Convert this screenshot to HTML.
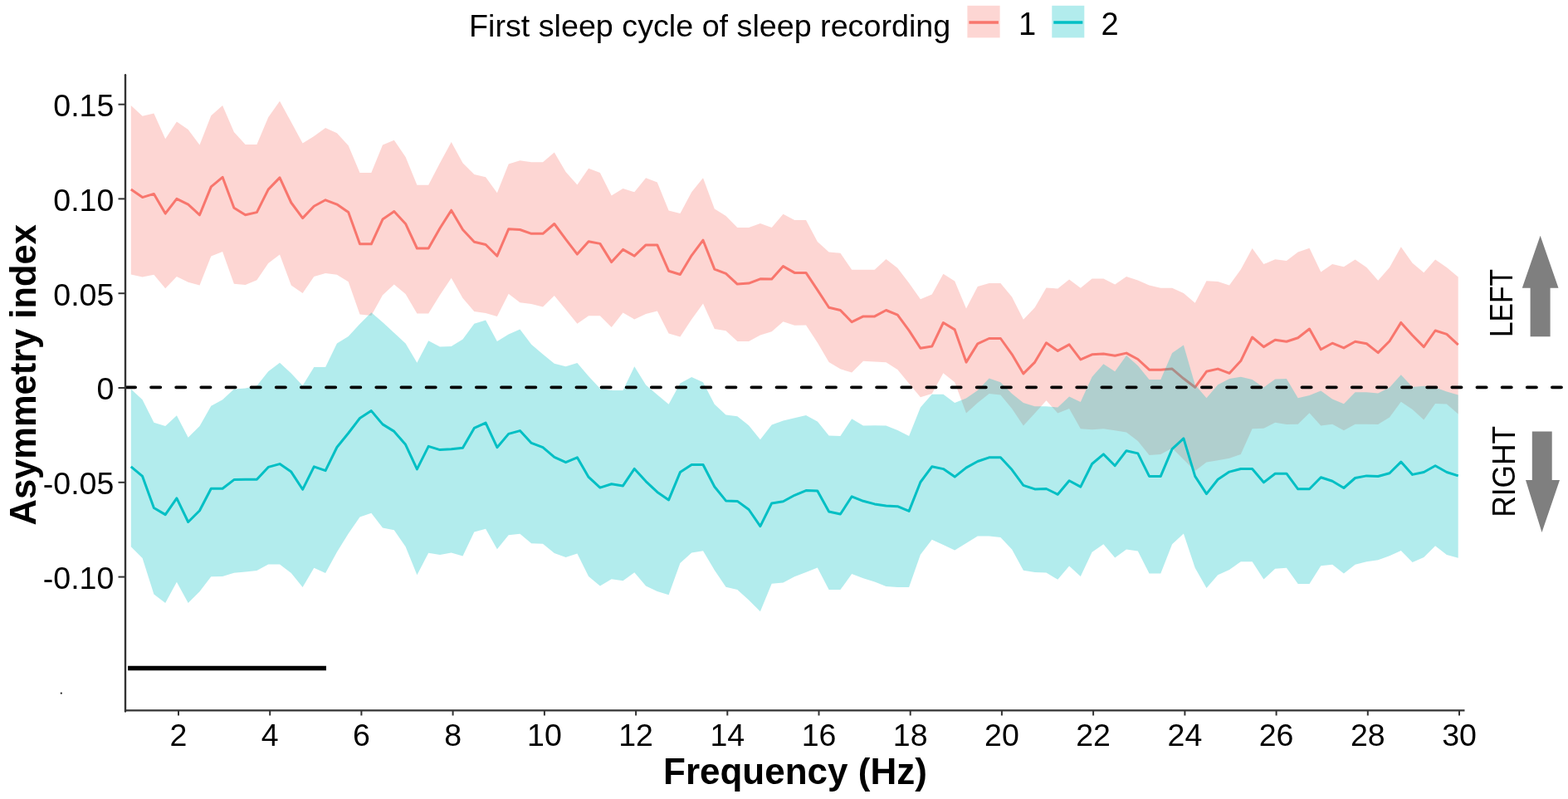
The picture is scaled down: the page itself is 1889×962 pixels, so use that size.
<!DOCTYPE html>
<html><head><meta charset="utf-8"><title>Asymmetry index by frequency</title>
<style>
html,body{margin:0;padding:0;background:#fff;}
body{width:1889px;height:962px;overflow:hidden;}
svg{display:block;}
.tk{font-family:"Liberation Sans",sans-serif;font-size:37.5px;fill:#000;}
.ttl{font-family:"Liberation Sans",sans-serif;font-size:44px;font-weight:bold;fill:#000;}
.lg{font-family:"Liberation Sans",sans-serif;font-size:38px;fill:#000;}
.lr{font-family:"Liberation Sans",sans-serif;font-size:39px;fill:#000;}
</style></head>
<body>
<svg width="1889" height="962" viewBox="0 0 1889 962">
<rect width="1889" height="962" fill="#fff"/>
<polygon points="157.8,127.1 171.6,139.8 185.4,136.4 199.2,167.3 212.9,146.6 226.7,156.1 240.5,174.5 254.3,139.2 268.1,127.1 281.9,158.9 295.6,174.1 309.4,174.1 323.2,141.3 337.0,121.8 350.8,147.0 364.6,172.4 378.3,163.9 392.1,154.0 405.9,160.3 419.7,175.2 433.5,208.0 447.3,208.0 461.0,174.5 474.8,168.8 488.6,188.9 502.4,222.8 516.2,222.8 530.0,196.3 543.7,170.9 557.5,196.3 571.3,210.1 585.1,213.3 598.9,232.3 612.7,197.4 626.4,193.2 640.2,195.3 654.0,195.3 667.8,183.6 681.6,206.9 695.4,222.4 709.1,202.7 722.9,208.0 736.7,235.5 750.5,227.1 764.3,231.3 778.1,214.3 791.8,219.6 805.6,253.5 819.4,257.1 833.2,231.3 847.0,214.3 860.8,251.4 874.5,259.9 888.3,274.1 902.1,274.1 915.9,269.0 929.7,274.0 943.5,257.7 957.2,264.9 971.0,264.9 984.8,290.9 998.6,303.6 1012.4,304.7 1026.2,324.8 1040.0,324.8 1053.7,324.8 1067.5,312.1 1081.3,322.7 1095.1,340.7 1108.9,360.2 1122.7,354.5 1136.4,329.7 1150.2,338.6 1164.0,371.4 1177.8,344.9 1191.6,341.1 1205.4,341.1 1219.1,357.6 1232.9,384.7 1246.7,370.3 1260.5,346.6 1274.3,347.5 1288.1,336.5 1301.8,346.7 1315.6,335.5 1329.4,335.5 1343.2,342.5 1357.0,332.9 1370.8,337.6 1384.5,343.5 1398.3,346.7 1412.1,346.7 1425.9,353.1 1439.7,364.7 1453.5,338.2 1467.2,338.9 1481.0,343.5 1494.8,324.5 1508.6,299.1 1522.4,318.1 1536.2,312.2 1549.9,313.9 1563.7,303.5 1577.5,298.8 1591.3,327.6 1605.1,318.1 1618.9,321.3 1632.6,312.4 1646.4,321.9 1660.2,337.8 1674.0,321.9 1687.8,297.2 1701.6,316.8 1715.3,328.3 1729.1,312.4 1742.9,321.9 1756.7,333.4 1756.7,498.6 1742.9,486.5 1729.1,485.9 1715.3,505.6 1701.6,492.9 1687.8,483.7 1674.0,502.4 1660.2,510.9 1646.4,510.7 1632.6,510.7 1618.9,518.3 1605.1,510.7 1591.3,512.6 1577.5,497.3 1563.7,510.7 1549.9,510.9 1536.2,508.8 1522.4,515.8 1508.6,516.2 1494.8,546.9 1481.0,551.8 1467.2,554.3 1453.5,556.5 1439.7,567.1 1425.9,553.3 1412.1,539.5 1398.3,546.9 1384.5,548.0 1370.8,531.1 1357.0,520.5 1343.2,518.3 1329.4,516.2 1315.6,517.3 1301.8,516.2 1288.1,491.9 1274.3,497.4 1260.5,482.3 1246.7,497.4 1232.9,512.6 1219.1,491.9 1205.4,475.4 1191.6,474.0 1177.8,485.1 1164.0,497.4 1150.2,460.3 1136.4,449.3 1122.7,474.0 1108.9,478.2 1095.1,461.7 1081.3,445.1 1067.5,436.2 1053.7,435.5 1040.0,434.8 1026.2,448.6 1012.4,444.3 998.6,435.9 984.8,412.6 971.0,391.4 957.2,391.8 943.5,387.2 929.7,399.2 915.9,403.5 902.1,410.9 888.3,410.9 874.5,398.2 860.8,396.1 847.0,365.4 833.2,384.5 819.4,405.6 805.6,401.4 791.8,374.5 778.1,378.1 764.3,384.5 750.5,376.6 736.7,394.0 722.9,380.2 709.1,380.2 695.4,389.8 681.6,372.8 667.8,355.9 654.0,369.6 640.2,366.0 626.4,364.3 612.7,353.8 598.9,380.9 585.1,377.1 571.3,374.9 557.5,359.1 543.7,334.7 530.0,355.2 516.2,377.4 502.4,377.4 488.6,354.1 474.8,342.5 461.0,355.2 447.3,379.9 433.5,378.5 419.7,339.3 405.9,330.8 392.1,329.1 378.3,332.9 364.6,353.1 350.8,343.5 337.0,306.5 323.2,317.1 309.4,337.2 295.6,343.1 281.9,341.8 268.1,302.9 254.3,308.6 240.5,343.5 226.7,339.7 212.9,332.9 199.2,347.3 185.4,330.8 171.6,333.4 157.8,330.4" fill="#F8766D" fill-opacity="0.3"/>
<polyline points="157.8,228.1 171.6,237.6 185.4,233.4 199.2,257.1 212.9,239.3 226.7,246.1 240.5,258.8 254.3,224.9 268.1,213.3 281.9,250.3 295.6,258.8 309.4,255.6 323.2,228.1 337.0,213.9 350.8,244.0 364.6,262.6 378.3,248.2 392.1,240.8 405.9,246.1 419.7,255.6 433.5,293.8 447.3,293.8 461.0,264.1 474.8,254.6 488.6,269.4 502.4,299.0 516.2,299.0 530.0,274.7 543.7,253.2 557.5,276.5 571.3,291.3 585.1,294.5 598.9,308.2 612.7,275.8 626.4,276.5 640.2,281.3 654.0,281.3 667.8,269.5 681.6,288.1 695.4,306.1 709.1,290.7 722.9,293.4 736.7,315.6 750.5,300.4 764.3,308.2 778.1,294.9 791.8,294.9 805.6,326.2 819.4,330.5 833.2,307.6 847.0,289.2 860.8,324.1 874.5,329.4 888.3,342.1 902.1,341.1 915.9,335.8 929.7,336.0 943.5,320.6 957.2,328.4 971.0,328.4 984.8,349.2 998.6,370.3 1012.4,373.5 1026.2,387.7 1040.0,380.9 1053.7,380.9 1067.5,373.5 1081.3,379.2 1095.1,397.9 1108.9,419.2 1122.7,417.1 1136.4,388.5 1150.2,396.9 1164.0,436.1 1177.8,413.9 1191.6,407.5 1205.4,407.5 1219.1,426.6 1232.9,449.9 1246.7,436.1 1260.5,412.8 1274.3,422.4 1288.1,414.9 1301.8,432.9 1315.6,426.8 1329.4,426.1 1343.2,428.2 1357.0,425.1 1370.8,432.5 1384.5,445.2 1398.3,445.2 1412.1,444.1 1425.9,455.8 1439.7,466.3 1453.5,447.3 1467.2,444.1 1481.0,449.4 1494.8,434.6 1508.6,406.0 1522.4,417.6 1536.2,409.2 1549.9,411.3 1563.7,406.8 1577.5,396.0 1591.3,420.8 1605.1,413.2 1618.9,418.9 1632.6,411.3 1646.4,413.8 1660.2,424.6 1674.0,410.7 1687.8,388.4 1701.6,403.7 1715.3,417.6 1729.1,398.0 1742.9,402.4 1756.7,415.1" fill="none" stroke="#F8766D" stroke-width="3" stroke-linejoin="round"/>
<polygon points="157.8,468.6 171.6,481.3 185.4,508.8 199.2,513.1 212.9,500.3 226.7,526.8 240.5,513.1 254.3,488.7 268.1,481.3 281.9,468.6 295.6,467.5 309.4,464.4 323.2,447.3 337.0,436.7 350.8,449.4 364.6,464.2 378.3,442.0 392.1,442.0 405.9,413.4 419.7,404.9 433.5,390.1 447.3,376.3 461.0,388.0 474.8,400.7 488.6,413.4 502.4,436.7 516.2,410.2 530.0,417.6 543.7,416.9 557.5,408.5 571.3,389.8 585.1,385.5 598.9,410.9 612.7,402.5 626.4,396.5 640.2,414.8 654.0,426.5 667.8,437.7 681.6,441.3 695.4,437.1 709.1,452.9 722.9,467.8 736.7,469.9 750.5,469.9 764.3,441.3 778.1,463.5 791.8,475.2 805.6,486.8 819.4,461.4 833.2,454.0 847.0,460.3 860.8,486.8 874.5,499.5 888.3,501.2 902.1,512.2 915.9,529.2 929.7,511.6 943.5,506.4 957.2,503.2 971.0,500.0 984.8,507.4 998.6,524.4 1012.4,525.0 1026.2,504.2 1040.0,512.6 1053.7,512.3 1067.5,512.6 1081.3,518.1 1095.1,525.0 1108.9,490.6 1122.7,474.7 1136.4,474.7 1150.2,485.1 1164.0,479.6 1177.8,469.9 1191.6,455.5 1205.4,460.3 1219.1,474.0 1232.9,485.1 1246.7,489.2 1260.5,489.2 1274.3,490.6 1288.1,477.5 1301.8,484.0 1315.6,453.8 1329.4,438.2 1343.2,447.2 1357.0,427.9 1370.8,440.3 1384.5,456.9 1398.3,456.9 1412.1,425.1 1425.9,415.5 1439.7,463.3 1453.5,479.2 1467.2,463.3 1481.0,455.9 1494.8,453.8 1508.6,456.9 1522.4,466.5 1536.2,456.5 1549.9,455.9 1563.7,479.3 1577.5,476.1 1591.3,470.4 1605.1,480.5 1618.9,486.2 1632.6,472.3 1646.4,472.3 1660.2,473.5 1674.0,466.6 1687.8,451.3 1701.6,465.9 1715.3,464.7 1729.1,466.6 1742.9,471.6 1756.7,475.5 1756.7,671.8 1742.9,668.0 1729.1,657.2 1715.3,671.1 1701.6,676.9 1687.8,662.9 1674.0,669.2 1660.2,674.3 1646.4,676.2 1632.6,679.8 1618.9,690.5 1605.1,679.8 1591.3,681.3 1577.5,702.9 1563.7,702.9 1549.9,683.8 1536.2,684.8 1522.4,697.5 1508.6,676.3 1494.8,676.3 1481.0,685.9 1467.2,692.2 1453.5,708.1 1439.7,683.8 1425.9,642.5 1412.1,655.2 1398.3,690.5 1384.5,690.5 1370.8,663.6 1357.0,661.5 1343.2,671.5 1329.4,655.2 1315.6,664.7 1301.8,694.0 1288.1,681.5 1274.3,697.8 1260.5,689.4 1246.7,688.9 1232.9,686.8 1219.1,661.4 1205.4,647.0 1191.6,645.5 1177.8,645.5 1164.0,654.0 1150.2,662.5 1136.4,656.1 1122.7,649.8 1108.9,667.8 1095.1,706.9 1081.3,706.9 1067.5,705.9 1053.7,700.6 1040.0,696.3 1026.2,691.1 1012.4,710.1 998.6,710.1 984.8,683.6 971.0,688.9 957.2,694.2 943.5,701.6 929.7,702.7 915.9,736.3 902.1,722.6 888.3,709.9 874.5,706.7 860.8,686.6 847.0,663.3 833.2,665.4 819.4,678.1 805.6,716.2 791.8,712.0 778.1,705.6 764.3,689.3 750.5,699.3 736.7,697.2 722.9,705.6 709.1,694.0 695.4,666.5 681.6,671.1 667.8,666.0 654.0,654.8 640.2,654.2 626.4,642.7 612.7,644.2 598.9,661.2 585.1,636.8 571.3,640.6 557.5,669.6 543.7,665.4 530.0,667.9 516.2,665.8 502.4,692.2 488.6,658.3 474.8,638.2 461.0,635.5 447.3,617.7 433.5,622.4 419.7,642.5 405.9,664.7 392.1,690.1 378.3,683.8 364.6,707.1 350.8,690.1 337.0,679.5 323.2,679.5 309.4,686.9 295.6,688.4 281.9,689.7 268.1,693.9 254.3,694.3 240.5,712.3 226.7,726.1 212.9,700.7 199.2,726.1 185.4,715.5 171.6,672.1 157.8,658.3" fill="#00BFC4" fill-opacity="0.3"/>
<polyline points="157.8,561.8 171.6,573.4 185.4,611.5 199.2,619.6 212.9,599.9 226.7,628.5 240.5,614.7 254.3,588.2 268.1,588.2 281.9,577.6 295.6,577.2 309.4,577.2 323.2,562.4 337.0,558.6 350.8,568.1 364.6,589.3 378.3,561.8 392.1,566.6 405.9,538.5 419.7,521.5 433.5,503.5 447.3,494.6 461.0,510.9 474.8,519.4 488.6,535.3 502.4,564.9 516.2,537.4 530.0,541.6 543.7,540.8 557.5,539.3 571.3,515.4 585.1,509.1 598.9,538.7 612.7,522.4 626.4,518.6 640.2,533.4 654.0,538.7 667.8,550.3 681.6,556.7 695.4,550.8 709.1,574.4 722.9,587.1 736.7,582.8 750.5,584.9 764.3,564.4 778.1,579.6 791.8,592.4 805.6,601.9 819.4,568.6 833.2,559.5 847.0,559.5 860.8,586.0 874.5,602.9 888.3,603.4 902.1,613.5 915.9,633.6 929.7,605.9 943.5,603.8 957.2,596.3 971.0,590.6 984.8,591.1 998.6,616.0 1012.4,619.0 1026.2,597.8 1040.0,603.3 1053.7,606.9 1067.5,609.1 1081.3,609.7 1095.1,615.4 1108.9,580.5 1122.7,561.8 1136.4,564.6 1150.2,574.1 1164.0,563.1 1177.8,555.5 1191.6,550.8 1205.4,550.8 1219.1,565.6 1232.9,584.3 1246.7,588.9 1260.5,588.5 1274.3,595.3 1288.1,578.8 1301.8,586.1 1315.6,558.5 1329.4,546.9 1343.2,560.7 1357.0,542.7 1370.8,545.9 1384.5,573.4 1398.3,573.4 1412.1,540.6 1425.9,527.9 1439.7,573.4 1453.5,594.6 1467.2,577.2 1481.0,568.1 1494.8,564.5 1508.6,564.5 1522.4,580.8 1536.2,570.2 1549.9,570.2 1563.7,588.8 1577.5,588.8 1591.3,574.8 1605.1,579.3 1618.9,587.5 1632.6,575.5 1646.4,572.9 1660.2,573.5 1674.0,569.7 1687.8,556.1 1701.6,571.4 1715.3,568.5 1729.1,560.8 1742.9,568.5 1756.7,572.9" fill="none" stroke="#00BFC4" stroke-width="3" stroke-linejoin="round"/>
<line x1="151.9" y1="466.3" x2="1881" y2="466.3" stroke="#000" stroke-width="3.8" stroke-linecap="round" stroke-dasharray="11.2 18.94"/>
<line x1="151" y1="90.2" x2="151" y2="856.5" stroke="#333" stroke-width="2.4" stroke-linecap="round"/>
<line x1="150" y1="855.4" x2="1764.5" y2="855.4" stroke="#333" stroke-width="2.2"/>
<line x1="142.5" y1="125.7" x2="151" y2="125.7" stroke="#333" stroke-width="2"/>
<line x1="142.5" y1="239.4" x2="151" y2="239.4" stroke="#333" stroke-width="2"/>
<line x1="142.5" y1="353.2" x2="151" y2="353.2" stroke="#333" stroke-width="2"/>
<line x1="142.5" y1="467.0" x2="151" y2="467.0" stroke="#333" stroke-width="2"/>
<line x1="142.5" y1="580.8" x2="151" y2="580.8" stroke="#333" stroke-width="2"/>
<line x1="142.5" y1="694.6" x2="151" y2="694.6" stroke="#333" stroke-width="2"/>
<line x1="215.0" y1="855.4" x2="215.0" y2="861.5" stroke="#333" stroke-width="2"/>
<line x1="325.2" y1="855.4" x2="325.2" y2="861.5" stroke="#333" stroke-width="2"/>
<line x1="435.4" y1="855.4" x2="435.4" y2="861.5" stroke="#333" stroke-width="2"/>
<line x1="545.6" y1="855.4" x2="545.6" y2="861.5" stroke="#333" stroke-width="2"/>
<line x1="655.9" y1="855.4" x2="655.9" y2="861.5" stroke="#333" stroke-width="2"/>
<line x1="766.1" y1="855.4" x2="766.1" y2="861.5" stroke="#333" stroke-width="2"/>
<line x1="876.3" y1="855.4" x2="876.3" y2="861.5" stroke="#333" stroke-width="2"/>
<line x1="986.5" y1="855.4" x2="986.5" y2="861.5" stroke="#333" stroke-width="2"/>
<line x1="1096.7" y1="855.4" x2="1096.7" y2="861.5" stroke="#333" stroke-width="2"/>
<line x1="1206.9" y1="855.4" x2="1206.9" y2="861.5" stroke="#333" stroke-width="2"/>
<line x1="1317.1" y1="855.4" x2="1317.1" y2="861.5" stroke="#333" stroke-width="2"/>
<line x1="1427.4" y1="855.4" x2="1427.4" y2="861.5" stroke="#333" stroke-width="2"/>
<line x1="1537.6" y1="855.4" x2="1537.6" y2="861.5" stroke="#333" stroke-width="2"/>
<line x1="1647.8" y1="855.4" x2="1647.8" y2="861.5" stroke="#333" stroke-width="2"/>
<line x1="1758.0" y1="855.4" x2="1758.0" y2="861.5" stroke="#333" stroke-width="2"/>
<text x="137.3" y="140.0" text-anchor="end" class="tk">0.15</text>
<text x="137.3" y="253.7" text-anchor="end" class="tk">0.10</text>
<text x="137.3" y="367.5" text-anchor="end" class="tk">0.05</text>
<text x="137.3" y="481.3" text-anchor="end" class="tk">0</text>
<text x="137.3" y="595.1" text-anchor="end" class="tk">-0.05</text>
<text x="137.3" y="708.9" text-anchor="end" class="tk">-0.10</text>
<text x="215.0" y="897.7" text-anchor="middle" class="tk">2</text>
<text x="325.2" y="897.7" text-anchor="middle" class="tk">4</text>
<text x="435.4" y="897.7" text-anchor="middle" class="tk">6</text>
<text x="545.6" y="897.7" text-anchor="middle" class="tk">8</text>
<text x="655.9" y="897.7" text-anchor="middle" class="tk">10</text>
<text x="766.1" y="897.7" text-anchor="middle" class="tk">12</text>
<text x="876.3" y="897.7" text-anchor="middle" class="tk">14</text>
<text x="986.5" y="897.7" text-anchor="middle" class="tk">16</text>
<text x="1096.7" y="897.7" text-anchor="middle" class="tk">18</text>
<text x="1206.9" y="897.7" text-anchor="middle" class="tk">20</text>
<text x="1317.1" y="897.7" text-anchor="middle" class="tk">22</text>
<text x="1427.4" y="897.7" text-anchor="middle" class="tk">24</text>
<text x="1537.6" y="897.7" text-anchor="middle" class="tk">26</text>
<text x="1647.8" y="897.7" text-anchor="middle" class="tk">28</text>
<text x="1758.0" y="897.7" text-anchor="middle" class="tk">30</text>
<line x1="154.1" y1="804.55" x2="393" y2="804.55" stroke="#000" stroke-width="5.5"/>
<circle cx="73.8" cy="834.7" r="1.1" fill="#222"/>
<text x="799" y="944.3" class="ttl">Frequency (Hz)</text>
<text transform="translate(43,632.5) rotate(-90)" class="ttl" textLength="362.4" lengthAdjust="spacingAndGlyphs">Asymmetry index</text>
<text x="565" y="44.0" class="lg" style="font-size:37.7px">First sleep cycle of sleep recording</text>
<rect x="1165.4" y="6.8" width="39.2" height="38.6" fill="#F8766D" fill-opacity="0.3"/>
<line x1="1167.4" y1="27" x2="1202.9" y2="27" stroke="#F8766D" stroke-width="3.5"/>
<rect x="1267.3" y="6.8" width="39" height="38.6" fill="#00BFC4" fill-opacity="0.3"/>
<line x1="1269.3" y1="27" x2="1304.3" y2="27" stroke="#00BFC4" stroke-width="3.5"/>
<text x="1227" y="42.2" class="lg">1</text>
<text x="1326.5" y="42.2" class="lg">2</text>
<polygon points="1855.6,283.7 1877.5,346.7 1867.6,346.7 1867.6,405.3 1843.6,405.3 1843.6,346.7 1833.8,346.7" fill="#7F7F7F"/>
<polygon points="1845.8,519.5 1869.7,519.5 1869.7,578 1879,578 1857.5,641.1 1838,578 1845.8,578" fill="#7F7F7F"/>
<text transform="translate(1822.4,406.1) rotate(-90)" class="lr" textLength="82" lengthAdjust="spacingAndGlyphs">LEFT</text>
<text transform="translate(1824.8,622.8) rotate(-90)" class="lr" textLength="110" lengthAdjust="spacingAndGlyphs">RIGHT</text>
</svg>
</body></html>
